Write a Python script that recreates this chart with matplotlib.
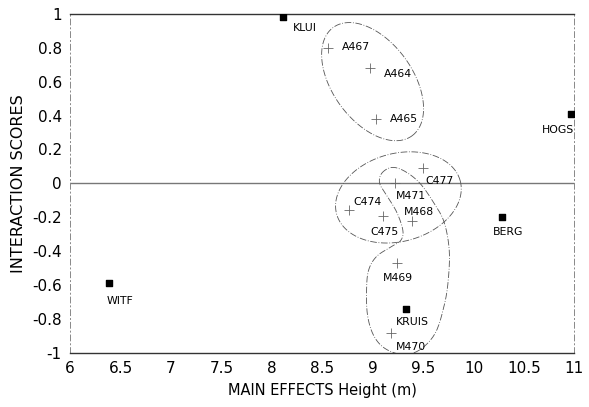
import numpy as np
import matplotlib
matplotlib.use("Agg")
from matplotlib import pyplot as plt

plt.rcParams['font.family'] = ['DejaVu Sans']

# environments (main effect height, interaction score)
env_names = ['KLUI', 'HOGS', 'BERG', 'WITF', 'KRUIS']
env_x = [8.11, 10.97, 10.28, 6.39, 9.33]
env_y = [0.98, 0.41, -0.20, -0.59, -0.74]

# genotypes
gen_names = ['A467', 'A464', 'A465', 'C477', 'M471', 'C474', 'C475', 'M468', 'M469', 'M470']
gen_x = [8.56, 8.97, 9.03, 9.50, 9.22, 8.77, 9.10, 9.39, 9.24, 9.18]
gen_y = [0.80, 0.68, 0.38, 0.09, 0.00, -0.16, -0.195, -0.22, -0.47, -0.885]

# label offsets in points (dx, dy)
env_off = [(7, -8), (-21.5, -11.5), (-6, -10.5), (-2, -12.5), (-7.5, -9.5)]
gen_off = [(10, 0.5), (10, -4), (10, 0), (2, -9.5), (1, -9), (3, 6), (-9, -11), (-6, 6.5), (-10, -11), (3.5, -9.5)]

# groups drawn by hand: ellipses (centre x, centre y, semi-major px, semi-minor px, angle deg)
ellipses = [(9.00, 0.60, 67, 40, -54), (9.256, -0.083, 64, 44, 15)]
# outline round the M group (data units)
m_outline = [(9.09, 0.059), (9.19, 0.094), (9.32, 0.071), (9.47, 0.0), (9.61, -0.118),
             (9.71, -0.23), (9.76, -0.395), (9.75, -0.572), (9.71, -0.72), (9.62, -0.885),
             (9.46, -0.985), (9.29, -1.009), (9.12, -0.973), (9.01, -0.897), (8.95, -0.779),
             (8.94, -0.631), (8.96, -0.513), (9.04, -0.431), (9.19, -0.372), (9.28, -0.336),
             (9.30, -0.277), (9.24, -0.171), (9.14, -0.071), (9.07, 0.0)]

xmin, xmax, ymin, ymax = 6, 11, -1, 1

fig = plt.figure(figsize=(5.89, 4.07), dpi=100)
ax = fig.add_axes([0.119, 0.133, 0.856, 0.833])
ax.set_xlim(xmin, xmax)
ax.set_ylim(ymin, ymax)

# pixels per data unit
sx = 0.856 * 589 / (xmax - xmin)
sy = 0.833 * 407 / (ymax - ymin)

ax.axhline(0, color='#777777', lw=1.0, zorder=1)

ax.scatter(env_x, env_y, marker='s', s=24, color='black', zorder=3)
ax.scatter(gen_x, gen_y, marker='+', s=45, color='#666666', linewidths=0.6, zorder=3)

for n, x, y, o in zip(env_names, env_x, env_y, env_off):
    ax.annotate(n, (x, y), xytext=o, textcoords='offset points', fontsize=7.8,
                ha='left', va='center')
for n, x, y, o in zip(gen_names, gen_x, gen_y, gen_off):
    ax.annotate(n, (x, y), xytext=o, textcoords='offset points', fontsize=7.8,
                ha='left', va='center')

t = np.linspace(0, 2 * np.pi, 300)
for cx, cy, a, b, ang in ellipses:
    th = np.radians(ang)
    ex = cx + (a * np.cos(t) * np.cos(th) - b * np.sin(t) * np.sin(th)) / sx
    ey = cy + (a * np.cos(t) * np.sin(th) + b * np.sin(t) * np.cos(th)) / sy
    ax.plot(ex, ey, color='#555555', lw=0.6, ls=(0, (8, 2, 1, 2)), zorder=2)

# smooth closed outline (Catmull-Rom)
pts = np.array(m_outline)
pts = np.vstack([pts[-1], pts, pts[0], pts[1]])
curve = []
for i in range(1, len(pts) - 2):
    p0, p1, p2, p3 = pts[i - 1], pts[i], pts[i + 1], pts[i + 2]
    for u in np.linspace(0, 1, 12, endpoint=False):
        curve.append(0.5 * ((2 * p1) + (-p0 + p2) * u + (2 * p0 - 5 * p1 + 4 * p2 - p3) * u ** 2
                            + (-p0 + 3 * p1 - 3 * p2 + p3) * u ** 3))
curve.append(curve[0])
curve = np.array(curve)
ax.plot(curve[:, 0], curve[:, 1], color='#555555', lw=0.6, ls=(0, (8, 2, 1, 2)), zorder=2)

ax.set_xticks(np.arange(6, 11.01, 0.5))
ax.set_xticklabels(['6', '6.5', '7', '7.5', '8', '8.5', '9', '9.5', '10', '10.5', '11'])
ax.set_yticks(np.arange(-1, 1.01, 0.2))
ax.set_yticklabels(['-1', '-0.8', '-0.6', '-0.4', '-0.2', '0', '0.2', '0.4', '0.6', '0.8', '1'])
ax.tick_params(length=0, labelsize=11, pad=6)

for s in ['top', 'bottom']:
    ax.spines[s].set_color('#333333')
    ax.spines[s].set_linewidth(1.0)
for s in ['left', 'right']:
    ax.spines[s].set_color('#888888')
    ax.spines[s].set_linewidth(0.7)
    ax.spines[s].set_linestyle((0, (6, 3, 1, 3)))

ax.set_xlabel('MAIN EFFECTS Height (m)', fontsize=10.5, labelpad=5)
ax.set_ylabel('INTERACTION SCORES', fontsize=11.5, labelpad=4)

fig.savefig('out.png', dpi=100)
